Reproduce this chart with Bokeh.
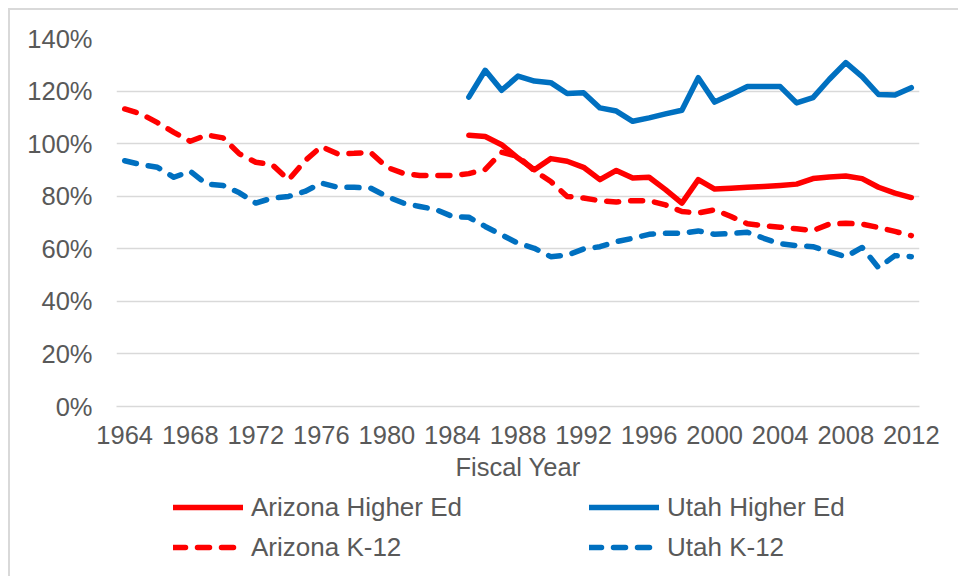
from bokeh.plotting import figure
from bokeh.models import Range1d, FixedTicker, PrintfTickFormatter, Legend, LegendItem
from bokeh.layouts import column
from bokeh.embed import file_html
from bokeh.resources import INLINE

# ---- data ----
years_k12 = list(range(1964, 2013))
years_he = list(range(1985, 2013))

arizona_k12 = [113.2, 111.3, 108.0, 104.3, 100.9, 103.3, 102.2, 96.1, 92.9, 92.0,
               86.2, 93.5, 98.9, 96.1, 96.3, 96.7, 91.0, 88.7, 87.9, 87.9,
               87.9, 88.6, 90.2, 96.7, 95.2, 89.7, 85.6, 79.9, 79.3, 78.3,
               77.8, 78.3, 78.3, 76.7, 74.2, 73.6, 74.8, 72.3, 69.5, 68.8,
               68.2, 67.6, 66.9, 69.4, 69.7, 69.4, 68.1, 66.6, 65.0]
utah_k12 = [93.5, 92.0, 91.0, 87.2, 89.5, 84.6, 84.1, 81.3, 77.4, 79.3,
            79.9, 81.8, 85.0, 83.4, 83.4, 83.1, 79.9, 77.4, 76.1, 74.9,
            72.3, 72.0, 68.5, 65.3, 62.1, 60.2, 57.0, 57.6, 59.9, 60.8,
            62.7, 64.0, 65.5, 65.9, 65.9, 66.8, 65.5, 65.8, 66.3, 64.0,
            61.9, 61.2, 60.8, 58.9, 57.0, 60.5, 52.8, 57.4, 57.0]
arizona_he = [103.2, 102.7, 99.6, 94.5, 90.1, 94.3, 93.3, 91.0, 86.3, 89.8,
              86.9, 87.2, 82.5, 77.4, 86.3, 82.7, 83.0, 83.4, 83.7, 84.1,
              84.6, 86.7, 87.3, 87.7, 86.7, 83.4, 81.2, 79.5]
utah_he = [117.7, 127.9, 120.3, 125.7, 123.8, 123.2, 119.1, 119.4, 113.6, 112.4,
           108.5, 109.8, 111.3, 112.7, 125.1, 115.8, 118.7, 121.7, 121.7, 121.7,
           115.5, 117.5, 124.5, 130.8, 125.5, 118.7, 118.5, 121.3]

x_ticks = [1964, 1968, 1972, 1976, 1980, 1984, 1988, 1992, 1996, 2000, 2004, 2008, 2012]
y_ticks = [0, 20, 40, 60, 80, 100, 120, 140]
legend_labels = ["Arizona Higher Ed", "Utah Higher Ed", "Arizona K-12", "Utah K-12"]

RED = "#FF0000"
BLUE = "#0070C0"
TXT = "#595959"
FONT = "Liberation Sans"
FS = "25.5px"
DASH = "12 12"

p = figure(width=948, height=480, output_backend="svg", toolbar_location=None,
           x_range=Range1d(1963.5, 2012.5), y_range=Range1d(0, 140),
           min_border_left=106, min_border_right=39, min_border_top=28,
           min_border_bottom=84)
p.outline_line_color = None
p.background_fill_color = "white"
p.border_fill_color = "white"

p.xgrid.grid_line_color = None
p.ygrid.grid_line_color = "#D9D9D9"
p.ygrid.grid_line_width = 1.5

p.yaxis.ticker = FixedTicker(ticks=y_ticks)
p.yaxis.formatter = PrintfTickFormatter(format="%d%%")
p.xaxis.ticker = FixedTicker(ticks=x_ticks)

for ax in (p.xaxis, p.yaxis):
    ax.axis_line_color = None
    ax.major_tick_line_color = None
    ax.minor_tick_line_color = None
    ax.major_label_text_font = FONT
    ax.major_label_text_font_size = FS
    ax.major_label_text_color = TXT
p.xaxis.axis_line_color = "#D9D9D9"
p.xaxis.axis_line_width = 1.5
p.yaxis.major_label_standoff = 18
p.xaxis.major_label_standoff = 13
p.xaxis.axis_label = "Fiscal Year"
p.xaxis.axis_label_text_font = FONT
p.xaxis.axis_label_text_font_size = FS
p.xaxis.axis_label_text_font_style = "normal"
p.xaxis.axis_label_text_color = TXT
p.xaxis.axis_label_standoff = 6

common = dict(line_width=5.5, line_join="round", line_cap="round")
p.line(years_he, arizona_he, line_color=RED, **common)
p.line(years_he, utah_he, line_color=BLUE, **common)
p.line(years_k12, arizona_k12, line_color=RED, line_dash=DASH, **common)
p.line(years_k12, utah_k12, line_color=BLUE, line_dash=DASH, **common)

# legend strip below the chart (series lie outside this strip's ranges; only the legend shows)
q = figure(width=948, height=86, output_backend="svg", toolbar_location=None,
           x_range=Range1d(0, 1), y_range=Range1d(0, 1),
           min_border=0, min_border_left=0, min_border_right=0,
           min_border_top=0, min_border_bottom=0)
q.axis.visible = False
q.grid.visible = False
q.outline_line_color = None
q.border_fill_color = "white"
q.background_fill_color = "white"
l1 = q.line(years_he, arizona_he, line_color=RED, **common)
l2 = q.line(years_he, utah_he, line_color=BLUE, **common)
l3 = q.line(years_k12, arizona_k12, line_color=RED, line_dash=DASH, **common)
l4 = q.line(years_k12, utah_k12, line_color=BLUE, line_dash=DASH, **common)

legend = Legend(items=[LegendItem(label=legend_labels[0], renderers=[l1]),
                       LegendItem(label=legend_labels[1], renderers=[l2]),
                       LegendItem(label=legend_labels[2], renderers=[l3]),
                       LegendItem(label=legend_labels[3], renderers=[l4])],
                location=(57, 13), ncols=2, orientation="horizontal",
                glyph_width=70, glyph_height=32, label_height=32,
                label_width=330, label_standoff=8, spacing=8,
                padding=0, margin=0,
                border_line_color=None, background_fill_alpha=0,
                label_text_font=FONT, label_text_font_size="26px",
                label_text_color=TXT)
q.add_layout(legend, "center")

layout = column(p, q, spacing=0,
                styles={"margin-left": "8px", "margin-top": "8px",
                        "border-left": "2px solid #D9D9D9",
                        "border-top": "2px solid #D9D9D9"})

open("out.html", "w").write(file_html(layout, INLINE))
